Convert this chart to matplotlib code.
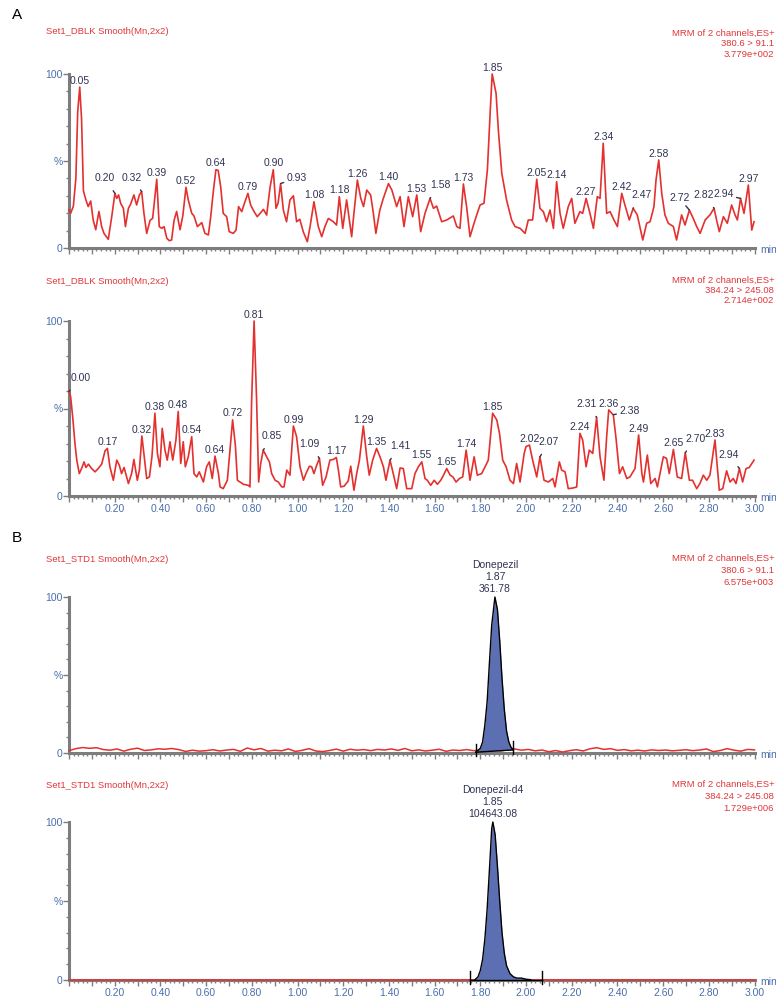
import numpy as np
import matplotlib
matplotlib.use("Agg")
import matplotlib.pyplot as plt
from matplotlib.ticker import MultipleLocator, FuncFormatter

plt.rcParams['font.family'] = ['Liberation Sans Narrow', 'Liberation Sans', 'DejaVu Sans']

# ---------------- data (min, %) ----------------
# A, top: blank, 380.6 > 91.1
a1_pts = [(0.000, 21.8), (0.007, 19.9), (0.019, 24), (0.030, 40), (0.038, 78), (0.047, 92.5), (0.055, 74),
          (0.063, 33), (0.074, 27.6), (0.084, 23.8), (0.095, 27), (0.106, 16), (0.117, 10.5), (0.131, 21),
          (0.143, 12.3), (0.153, 8.4), (0.172, 5), (0.187, 18), (0.201, 31.4), (0.209, 28.5), (0.217, 30.5),
          (0.226, 25.7), (0.238, 22.8), (0.247, 12.3), (0.260, 22.8), (0.270, 25.3), (0.284, 30.5),
          (0.296, 24.7), (0.308, 30.5), (0.318, 32.4), (0.328, 19.9), (0.340, 8.4), (0.355, 16), (0.366, 17),
          (0.384, 39.5), (0.395, 12.3), (0.406, 11.3), (0.416, 12.3), (0.428, 5.6), (0.439, 4.2), (0.449, 4.6),
          (0.460, 16), (0.471, 21), (0.486, 10.5), (0.498, 18.4), (0.512, 34.9), (0.522, 27.6), (0.537, 20),
          (0.547, 18.4), (0.562, 12.3), (0.581, 14.6), (0.595, 8.4), (0.610, 7.5), (0.620, 17.8), (0.632, 33),
          (0.643, 45), (0.653, 44.6), (0.664, 35), (0.675, 19.9), (0.690, 18), (0.701, 9.4), (0.719, 8.4),
          (0.731, 10.3), (0.742, 23.8), (0.756, 20.9), (0.770, 26.6), (0.783, 31.4), (0.795, 24.7),
          (0.810, 20.9), (0.824, 18), (0.839, 20.3), (0.851, 22.2), (0.865, 18.9), (0.880, 35), (0.894, 45),
          (0.906, 22.8), (0.915, 25.7), (0.926, 37), (0.938, 21.8), (0.952, 15.1), (0.967, 27.6), (0.982, 30),
          (0.996, 15.1), (1.010, 16.5), (1.025, 9.4), (1.043, 3.6), (1.055, 12.3), (1.072, 26.6), (1.091, 12.3),
          (1.106, 6.5), (1.120, 12.3), (1.135, 17), (1.157, 15.1), (1.171, 13.2), (1.183, 29.5), (1.198, 11.3),
          (1.215, 27.6), (1.237, 6.5), (1.247, 20), (1.262, 39), (1.277, 28.5), (1.289, 23.8), (1.303, 33.3),
          (1.320, 30.5), (1.332, 20), (1.343, 8.4), (1.360, 21.6), (1.375, 28.3), (1.398, 37), (1.413, 33.3),
          (1.434, 23.8), (1.449, 29.5), (1.466, 12.3), (1.485, 29.5), (1.504, 18), (1.522, 30.5), (1.539, 9.4),
          (1.558, 19.9), (1.580, 28.5), (1.595, 22.8), (1.609, 24.1), (1.631, 15.1), (1.653, 16.1),
          (1.682, 18.4), (1.697, 12.3), (1.711, 11.3), (1.726, 36.8), (1.740, 23.8), (1.755, 6.5),
          (1.777, 16.1), (1.799, 24.7), (1.816, 25.7), (1.831, 44.8), (1.843, 77.4), (1.852, 100),
          (1.869, 88.9), (1.879, 67.8), (1.894, 42.9), (1.915, 27.6), (1.937, 16.1), (1.952, 12.3),
          (1.974, 11.3), (1.996, 8.4), (2.010, 16.1), (2.029, 16.1), (2.047, 39.5), (2.061, 22.8),
          (2.076, 20.9), (2.090, 15.1), (2.105, 21.8), (2.120, 11.3), (2.134, 38.1), (2.149, 19.9),
          (2.163, 11.3), (2.185, 23.8), (2.200, 28.5), (2.214, 14.2), (2.236, 20.9), (2.248, 19.9),
          (2.263, 28.5), (2.280, 19.9), (2.295, 11.3), (2.312, 29.5), (2.324, 28.5), (2.338, 60.2),
          (2.353, 19.9), (2.368, 20.9), (2.385, 16.1), (2.400, 12.3), (2.419, 31.4), (2.433, 24.7),
          (2.452, 16.1), (2.469, 22.8), (2.487, 19), (2.511, 4.6), (2.528, 14.2), (2.543, 15.1), (2.560, 23.8),
          (2.569, 39.1), (2.581, 50.6), (2.594, 31.4), (2.608, 19), (2.623, 14.2), (2.645, 12.3), (2.659, 4.6),
          (2.681, 19), (2.696, 13.2), (2.715, 21.8), (2.732, 17), (2.747, 12.3), (2.762, 8.4), (2.784, 16.1),
          (2.805, 19), (2.823, 22.8), (2.834, 16.1), (2.846, 9.4), (2.864, 18), (2.881, 14.2), (2.900, 24.7),
          (2.915, 19), (2.925, 16.1), (2.939, 28.5), (2.954, 19.9), (2.973, 36.2), (2.988, 10.3), (2.998, 15.1)]
a1_labels = [(0.047, "0.05"), (0.201, "0.20"), (0.318, "0.32"), (0.384, "0.39"), (0.512, "0.52"),
             (0.643, "0.64"), (0.783, "0.79"), (0.894, "0.90"), (0.926, "0.93"), (1.072, "1.08"),
             (1.183, "1.18"), (1.262, "1.26"), (1.398, "1.40"), (1.522, "1.53"), (1.580, "1.58"),
             (1.726, "1.73"), (1.852, "1.85"), (2.047, "2.05"), (2.134, "2.14"), (2.263, "2.27"),
             (2.338, "2.34"), (2.419, "2.42"), (2.469, "2.47"), (2.581, "2.58"), (2.715, "2.72"),
             (2.823, "2.82"), (2.939, "2.94"), (2.973, "2.97")]
# A, bottom: blank, 384.24 > 245.08
a2_pts = [(0.000, 59.8), (0.007, 56.9), (0.016, 45.4), (0.026, 30.1), (0.034, 20.5), (0.045, 12.8), (0.055, 15.7),
          (0.066, 19.5), (0.074, 16.3), (0.085, 18.2), (0.099, 15.7), (0.114, 13.8), (0.128, 15.7), (0.143, 18.2),
          (0.158, 25.9), (0.168, 27.2), (0.179, 16.7), (0.194, 9.0), (0.209, 20.5), (0.220, 17.6), (0.230, 12.8),
          (0.241, 16.3), (0.260, 7.1), (0.274, 12.8), (0.284, 20.9), (0.299, 9.0), (0.308, 14.8), (0.319, 34.3),
          (0.330, 21.5), (0.340, 10.0), (0.352, 10.9), (0.363, 22.4), (0.376, 47.3), (0.387, 24.3), (0.398, 16.7),
          (0.408, 38.7), (0.420, 26.2), (0.430, 20.5), (0.442, 31.0), (0.454, 20.5), (0.468, 32.0), (0.478, 48.3),
          (0.489, 18.6), (0.500, 31.0), (0.509, 16.7), (0.522, 22.4), (0.537, 33.9), (0.547, 12.8), (0.559, 10.9),
          (0.570, 13.8), (0.588, 8.0), (0.602, 16.7), (0.614, 19.5), (0.627, 10.0), (0.639, 22.8), (0.654, 12.8),
          (0.661, 5.2), (0.675, 4.2), (0.693, 9.0), (0.716, 43.5), (0.728, 29.1), (0.737, 9.0), (0.748, 8.0),
          (0.763, 6.7), (0.785, 6.1), (0.792, 5.2), (0.799, 53.1), (0.810, 100), (0.821, 55.0), (0.830, 8.0),
          (0.839, 18.6), (0.850, 26.2), (0.865, 22.4), (0.877, 19.5), (0.887, 12.8), (0.902, 9.0), (0.916, 8.0),
          (0.931, 5.2), (0.941, 5.2), (0.953, 14.8), (0.967, 11.9), (0.982, 40.0), (0.996, 33.9), (1.011, 16.7),
          (1.026, 9.0), (1.037, 12.8), (1.052, 17.0), (1.062, 16.7), (1.072, 12.8), (1.084, 17.6), (1.096, 21.5),
          (1.110, 6.1), (1.125, 10.9), (1.142, 20.5), (1.157, 20.9), (1.170, 22.0), (1.179, 14.8), (1.189, 5.2),
          (1.204, 5.6), (1.222, 8.6), (1.233, 17.0), (1.247, 3.3), (1.259, 12.8), (1.271, 20.5), (1.288, 40.0),
          (1.303, 22.4), (1.314, 11.9), (1.329, 20.5), (1.346, 27.2), (1.361, 22.4), (1.376, 16.7), (1.387, 9.0),
          (1.405, 20.5), (1.419, 12.8), (1.434, 4.2), (1.449, 16.0), (1.463, 15.7), (1.478, 4.2), (1.500, 4.2),
          (1.514, 12.8), (1.529, 16.7), (1.544, 19.5), (1.558, 10.0), (1.568, 9.0), (1.583, 6.1), (1.598, 9.0),
          (1.612, 6.7), (1.627, 9.0), (1.639, 11.9), (1.653, 15.7), (1.668, 11.9), (1.680, 10.9), (1.694, 8.0),
          (1.709, 10.0), (1.723, 10.9), (1.738, 26.2), (1.755, 9.0), (1.773, 22.4), (1.787, 11.9), (1.806, 12.8),
          (1.821, 16.7), (1.835, 20.5), (1.854, 47.3), (1.872, 43.5), (1.884, 35.8), (1.898, 20.5), (1.913, 16.7),
          (1.930, 9.0), (1.945, 7.1), (1.959, 18.6), (1.974, 8.0), (1.992, 24.3), (2.000, 28.2), (2.015, 29.1),
          (2.029, 20.5), (2.047, 10.9), (2.061, 22.4), (2.079, 9.0), (2.098, 8.0), (2.117, 10.0), (2.127, 5.2),
          (2.146, 19.5), (2.156, 14.8), (2.171, 13.8), (2.185, 4.2), (2.207, 4.6), (2.222, 5.2), (2.236, 35.8),
          (2.248, 32.0), (2.263, 16.7), (2.277, 26.2), (2.292, 24.3), (2.309, 45.0), (2.324, 22.4), (2.341, 9.0),
          (2.353, 33.9), (2.362, 49.2), (2.375, 47.3), (2.382, 46.4), (2.394, 33.0), (2.409, 12.8), (2.423, 16.7),
          (2.441, 10.0), (2.455, 10.9), (2.477, 15.7), (2.493, 34.9), (2.507, 12.8), (2.514, 8.0), (2.531, 23.4),
          (2.546, 7.1), (2.565, 10.0), (2.575, 5.2), (2.601, 22.4), (2.615, 21.5), (2.627, 12.8), (2.645, 26.6),
          (2.662, 10.9), (2.681, 10.0), (2.697, 24.7), (2.715, 9.0), (2.729, 9.0), (2.747, 4.2), (2.761, 7.1),
          (2.776, 11.9), (2.791, 9.0), (2.805, 11.9), (2.827, 32.0), (2.846, 3.3), (2.861, 4.2), (2.878, 14.4),
          (2.893, 8.0), (2.907, 10.0), (2.919, 7.1), (2.934, 15.7), (2.948, 8.0), (2.963, 15.7), (2.977, 16.3),
          (2.998, 20.5)]
a2_labels = [(0.000, "0.00"), (0.168, "0.17"), (0.319, "0.32"), (0.376, "0.38"), (0.478, "0.48"),
             (0.537, "0.54"), (0.639, "0.64"), (0.716, "0.72"), (0.810, "0.81"), (0.850, "0.85"),
             (0.982, "0.99"), (1.096, "1.09"), (1.170, "1.17"), (1.288, "1.29"), (1.346, "1.35"),
             (1.405, "1.41"), (1.544, "1.55"), (1.653, "1.65"), (1.738, "1.74"), (1.854, "1.85"),
             (2.015, "2.02"), (2.061, "2.07"), (2.236, "2.24"), (2.309, "2.31"), (2.362, "2.36"),
             (2.382, "2.38"), (2.493, "2.49"), (2.645, "2.65"), (2.697, "2.70"), (2.827, "2.83"),
             (2.934, "2.94")]

# B, top: standard, 380.6 > 91.1 (noise trace + Donepezil peak)
b1_noise_t = [0.00, 0.03, 0.06, 0.09, 0.12, 0.15, 0.18, 0.21, 0.24, 0.27, 0.30, 0.33, 0.36, 0.39, 0.42, 0.45,
              0.48, 0.51, 0.54, 0.57, 0.60, 0.63, 0.66, 0.69, 0.72, 0.75, 0.78, 0.81, 0.84, 0.87, 0.90, 0.93,
              0.96, 0.99, 1.02, 1.05, 1.08, 1.11, 1.14, 1.17, 1.20, 1.23, 1.26, 1.29, 1.32, 1.35, 1.38, 1.41,
              1.44, 1.47, 1.50, 1.53, 1.56, 1.59, 1.62, 1.65, 1.68, 1.71, 1.74, 1.77, 1.80, 1.83, 1.86, 1.89,
              1.92, 1.95, 1.98, 2.01, 2.04, 2.07, 2.10, 2.13, 2.16, 2.19, 2.22, 2.25, 2.28, 2.31, 2.34, 2.37,
              2.40, 2.43, 2.46, 2.49, 2.52, 2.55, 2.58, 2.61, 2.64, 2.67, 2.70, 2.73, 2.76, 2.79, 2.82, 2.85,
              2.88, 2.91, 2.94, 2.97, 3.00]
b1_noise_i = [1.5, 2.8, 3.5, 3.0, 3.4, 2.2, 1.8, 2.6, 1.2, 2.4, 3.1, 1.6, 2.0, 2.7, 2.4, 2.9,
              2.2, 1.0, 1.8, 1.2, 1.5, 2.1, 1.3, 1.9, 2.3, 1.1, 3.2, 2.0, 2.9, 1.2, 1.8, 1.4,
              2.6, 1.0, 1.7, 2.8, 1.3, 0.9, 1.6, 2.5, 1.2, 2.4, 1.8, 2.2, 1.5, 2.3, 1.9, 2.6,
              1.7, 2.9, 1.4, 2.0, 1.3, 1.8, 2.4, 1.1, 1.9, 1.6, 2.2, 1.5, 1.8, 1.6, 1.7, 1.4,
              2.0, 2.6, 1.8, 2.3, 1.4, 1.9, 0.8, 1.6, 0.6, 1.5, 2.1, 1.3, 2.7, 3.4, 2.3, 2.8,
              1.7, 2.2, 1.4, 1.8, 1.3, 2.0, 1.6, 1.9, 1.4, 1.7, 2.1, 1.5, 1.9, 2.6, 0.9, 1.6,
              2.8, 1.8, 1.2, 2.3, 2.0]
b1_peak_t = [1.780, 1.800, 1.810, 1.820, 1.830, 1.840, 1.850, 1.864, 1.875, 1.885, 1.895, 1.905, 1.915,
             1.925, 1.935, 1.945]
b1_peak_i = [0.5, 3, 7, 18, 33, 58, 82, 100, 92, 72, 48, 28, 14, 7, 3.5, 2.0]
b1_base = [(1.780, 0.5), (1.945, 2.0)]

# B, bottom: standard, 384.24 > 245.08 (Donepezil-d4)
b2_noise_t = [0.00, 1.00, 2.00, 3.00]
b2_noise_i = [0.3, 0.3, 0.3, 0.3]
b2_peak_t = [1.775, 1.790, 1.800, 1.810, 1.820, 1.830, 1.840, 1.850, 1.855, 1.865, 1.875, 1.885, 1.895,
             1.905, 1.915, 1.930, 1.945, 1.960, 1.980, 2.000, 2.020]
b2_peak_i = [0, 2, 6, 13, 26, 45, 70, 96, 100, 92, 72, 50, 30, 17, 9, 4, 2, 1.2, 1.2, 0.5, 0.2]
b2_base = [(1.755, 0.0), (2.070, 0.0)]

# text
titles = ["Set1_DBLK Smooth(Mn,2x2)", "Set1_DBLK Smooth(Mn,2x2)",
          "Set1_STD1 Smooth(Mn,2x2)", "Set1_STD1 Smooth(Mn,2x2)"]
headers = ["MRM of 2 channels,ES+\n380.6 > 91.1\n3.779e+002",
           "MRM of 2 channels,ES+\n384.24 > 245.08\n2.714e+002",
           "MRM of 2 channels,ES+\n380.6 > 91.1\n6.575e+003",
           "MRM of 2 channels,ES+\n384.24 > 245.08\n1.729e+006"]
peak_names = ["Donepezil\n1.87\n361.78", "Donepezil-d4\n1.85\n104643.08"]

# leader-line label offsets (pixels, right / up)
lead1 = {"0.20": (-10, 15), "0.32": (-10, 14), "0.93": (16, 6), "1.58": (10, 13), "2.47": (8, 13),
         "2.72": (-10, 12), "2.82": (-10, 13), "2.94": (-17, 4)}
lead2 = {"0.00": (12, 13), "0.85": (9, 14), "1.09": (-10, 14), "1.41": (10, 14), "2.07": (9, 15),
         "2.31": (-10, 13), "2.38": (16, 4), "2.70": (10, 14), "2.94": (-11, 14)}

RED = '#e3312f'
HRED = '#e0363a'
BLUE = '#4a6eaa'
GRAY = '#7d7d80'
NAVY = '#2f3352'
FILL = '#5b6fb2'
PT = 0.72  # points per pixel at 100 dpi

W, H = 776, 1000
fig = plt.figure(figsize=(7.76, 10), dpi=100)

# axes: (y of 100 %, y of 0 %) in pixels
rows = [(74, 248), (321, 496), (597, 753), (822, 980)]
axes = []
for top, bot in rows:
    ax = fig.add_axes([69 / W, 1 - bot / H, 685.5 / W, (bot - top) / H])
    axes.append(ax)


def style_axis(ax, show_x):
    ax.set_xlim(0, 3.0)
    ax.set_ylim(0, 100)
    for s in ['top', 'right']:
        ax.spines[s].set_visible(False)
    for s in ['left', 'bottom']:
        ax.spines[s].set_color(GRAY)
        ax.spines[s].set_linewidth(2.2)
        ax.spines[s].set_zorder(1)
    ax.set_yticks([0, 50, 100])
    ax.set_yticklabels(['0', '%', '100'])
    ax.yaxis.set_minor_locator(MultipleLocator(10))
    ax.xaxis.set_major_locator(MultipleLocator(0.1))
    ax.xaxis.set_minor_locator(MultipleLocator(0.02))
    ax.xaxis.set_major_formatter(FuncFormatter(
        lambda v, p: f"{v:.2f}" if (v > 0.05 and round(v * 10) % 2 == 0) else ""))
    ax.tick_params(axis='y', which='major', length=4, width=1, color=GRAY, labelcolor=BLUE,
                   labelsize=7.5, pad=0.5)
    ax.tick_params(axis='y', which='minor', length=2.5, width=1, color=GRAY)
    ax.tick_params(axis='x', which='major', length=4, width=1, color=GRAY, labelcolor=BLUE,
                   labelsize=7.5, pad=2, labelbottom=show_x)
    ax.tick_params(axis='x', which='minor', length=2.5, width=1, color=GRAY)
    ax.text(1.008, -0.01, 'min', transform=ax.transAxes, color=BLUE, fontsize=7.5,
            ha='left', va='center')
    ax.patch.set_alpha(0)


def label_peaks(ax, t, y, labels, leaders):
    for lt, txt in labels:
        ly = np.interp(lt, t, y)
        if txt in leaders:
            dx, dy = leaders[txt]
            ax.annotate(txt, xy=(lt, ly), xytext=(dx * PT, dy * PT), textcoords='offset points',
                        ha='center', va='center', fontsize=7.5, color=NAVY, annotation_clip=False,
                        arrowprops=dict(arrowstyle='-', color=NAVY, lw=1.0, shrinkA=4, shrinkB=0))
        else:
            ax.annotate(txt, xy=(lt, ly), xytext=(0, 1), textcoords='offset points', ha='center',
                        va='bottom', fontsize=7.5, color=NAVY, annotation_clip=False)


# panel A
for ax, pts, labs, lead in [(axes[0], a1_pts, a1_labels, lead1), (axes[1], a2_pts, a2_labels, lead2)]:
    t, y = np.array(pts).T
    ax.plot(t, y, color=RED, lw=1.2, zorder=3, clip_on=False)
    label_peaks(ax, t, y, labs, lead)

# panel B
for ax, nt, ni, pt_, pi_, base, name in [
        (axes[2], b1_noise_t, b1_noise_i, b1_peak_t, b1_peak_i, b1_base, peak_names[0]),
        (axes[3], b2_noise_t, b2_noise_i, b2_peak_t, b2_peak_i, b2_base, peak_names[1])]:
    ax.plot(nt, ni, color=RED, lw=1.1, zorder=3, clip_on=False)
    (bx0, by0), (bx1, by1) = base
    pt_ = np.array(pt_)
    pi_ = np.array(pi_)
    floor = np.interp(pt_, [bx0, bx1], [by0, by1])
    ax.fill_between(pt_, floor, np.maximum(pi_, floor), color=FILL, lw=0, zorder=4)
    ax.plot(pt_, pi_, color='black', lw=1.0, zorder=5, clip_on=False)
    ax.plot([bx0, bx1], [by0, by1], color='black', lw=1.0, zorder=5, clip_on=False)
    for bx, by in base:
        ax.plot([bx, bx], [by - 2.5, by + 5.5], color='black', lw=1.0, zorder=5, clip_on=False)
    top_i = int(np.argmax(pi_))
    ax.annotate(name, xy=(pt_[top_i], pi_[top_i]), xytext=(0, 2), textcoords='offset points',
                ha='center', va='bottom', fontsize=7.5, color=NAVY, linespacing=1.28,
                annotation_clip=False)

for i, ax in enumerate(axes):
    style_axis(ax, show_x=(i in (1, 3)))

# titles and header blocks
title_y = [32, 282, 560, 785]
header_y = [34, 281, 559, 785]
header_ls = [1.2, 1.17, 1.45, 1.45]
for i in range(4):
    fig.text(46 / W, 1 - title_y[i] / H, titles[i], color=HRED, fontsize=6.8, ha='left', va='center')
    fig.text(774 / W, 1 - (header_y[i] - 5) / H, headers[i], color=HRED, fontsize=6.8, ha='right',
             va='top', linespacing=header_ls[i], multialignment='right')

fig.text(12 / W, 1 - 15 / H, 'A', fontsize=11, ha='left', va='center', color='black')
fig.text(12 / W, 1 - 538 / H, 'B', fontsize=11, ha='left', va='center', color='black')

fig.savefig('out.png', dpi=100)
